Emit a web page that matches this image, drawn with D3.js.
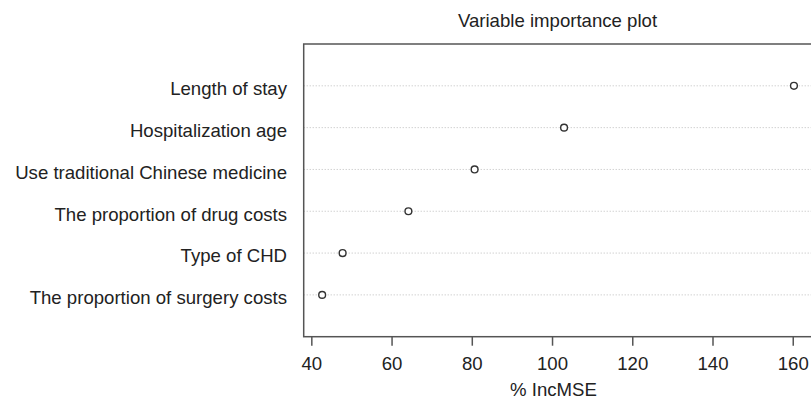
<!DOCTYPE html>
<html>
<head>
<meta charset="utf-8">
<script src="https://cdn.jsdelivr.net/npm/d3@7"></script>
<style>
  body { margin: 0; background: #fff; }
  svg text { font-family: "Liberation Sans", Arial, sans-serif; fill: #222; }
</style>
</head>
<body>
<svg width="811" height="401"></svg>
<script>
// Variables, top to bottom
var variables = [
  "Length of stay",
  "Hospitalization age",
  "Use traditional Chinese medicine",
  "The proportion of drug costs",
  "Type of CHD",
  "The proportion of surgery costs"
];
// % IncMSE values
var incMSE = [160.3, 103.0, 80.7, 64.2, 47.8, 42.7];
var xTicks = [40, 60, 80, 100, 120, 140, 160];

var title = "Variable importance plot";
var xLabel = "% IncMSE";

var box = { left: 303.7, right: 813.2, top: 44, bottom: 336.7 };
var fontSize = 18.6;

var svg = d3.select("svg");

// x scale with R style 4% padding
var x = d3.scaleLinear().domain([38.1, 165.1]).range([box.left, box.right]);
// rows at 1..6 counted from the bottom, axis 0..7
var y = d3.scaleLinear().domain([0, variables.length + 1]).range([box.bottom, box.top]);

var rows = variables.map(function (d, i) {
  return { name: d, value: incMSE[i], pos: variables.length - i };
});

// dotted guide lines
svg.selectAll(".guide")
  .data(rows)
  .enter().append("line")
  .attr("class", "guide")
  .attr("x1", box.left)
  .attr("x2", box.right)
  .attr("y1", function (d) { return y(d.pos); })
  .attr("y2", function (d) { return y(d.pos); })
  .attr("stroke", "#bdbdbd")
  .attr("stroke-width", 1)
  .attr("stroke-dasharray", "1,2");

// points
svg.selectAll(".dot")
  .data(rows)
  .enter().append("circle")
  .attr("class", "dot")
  .attr("cx", function (d) { return x(d.value); })
  .attr("cy", function (d) { return y(d.pos); })
  .attr("r", 3.4)
  .attr("fill", "#fff")
  .attr("stroke", "#333")
  .attr("stroke-width", 1.4);

// variable names
svg.selectAll(".name")
  .data(rows)
  .enter().append("text")
  .attr("class", "name")
  .attr("x", 287)
  .attr("y", function (d) { return y(d.pos) + 9.3; })
  .attr("text-anchor", "end")
  .style("font-size", fontSize + "px")
  .text(function (d) { return d.name; });

// frame
svg.append("rect")
  .attr("x", box.left)
  .attr("y", box.top)
  .attr("width", box.right - box.left)
  .attr("height", box.bottom - box.top)
  .attr("fill", "none")
  .attr("stroke", "#555")
  .attr("stroke-width", 1.5);

// x axis
var xAxis = svg.append("g")
  .attr("transform", "translate(0," + box.bottom + ")")
  .call(d3.axisBottom(x).tickValues(xTicks).tickSize(9).tickPadding(11.5));
xAxis.select(".domain").remove();
xAxis.selectAll(".tick line").attr("stroke", "#555").attr("stroke-width", 1.5);
xAxis.selectAll(".tick text")
  .style("font-size", fontSize + "px")
  .style("font-family", "'Liberation Sans', Arial, sans-serif")
  .attr("fill", "#222");

// axis title
svg.append("text")
  .attr("x", (box.left + box.right) / 2 - 5)
  .attr("y", 396)
  .attr("text-anchor", "middle")
  .style("font-size", fontSize + "px")
  .text(xLabel);

// main title
svg.append("text")
  .attr("x", 557.5)
  .attr("y", 26.5)
  .attr("text-anchor", "middle")
  .style("font-size", fontSize + "px")
  .text(title);
</script>
</body>
</html>
